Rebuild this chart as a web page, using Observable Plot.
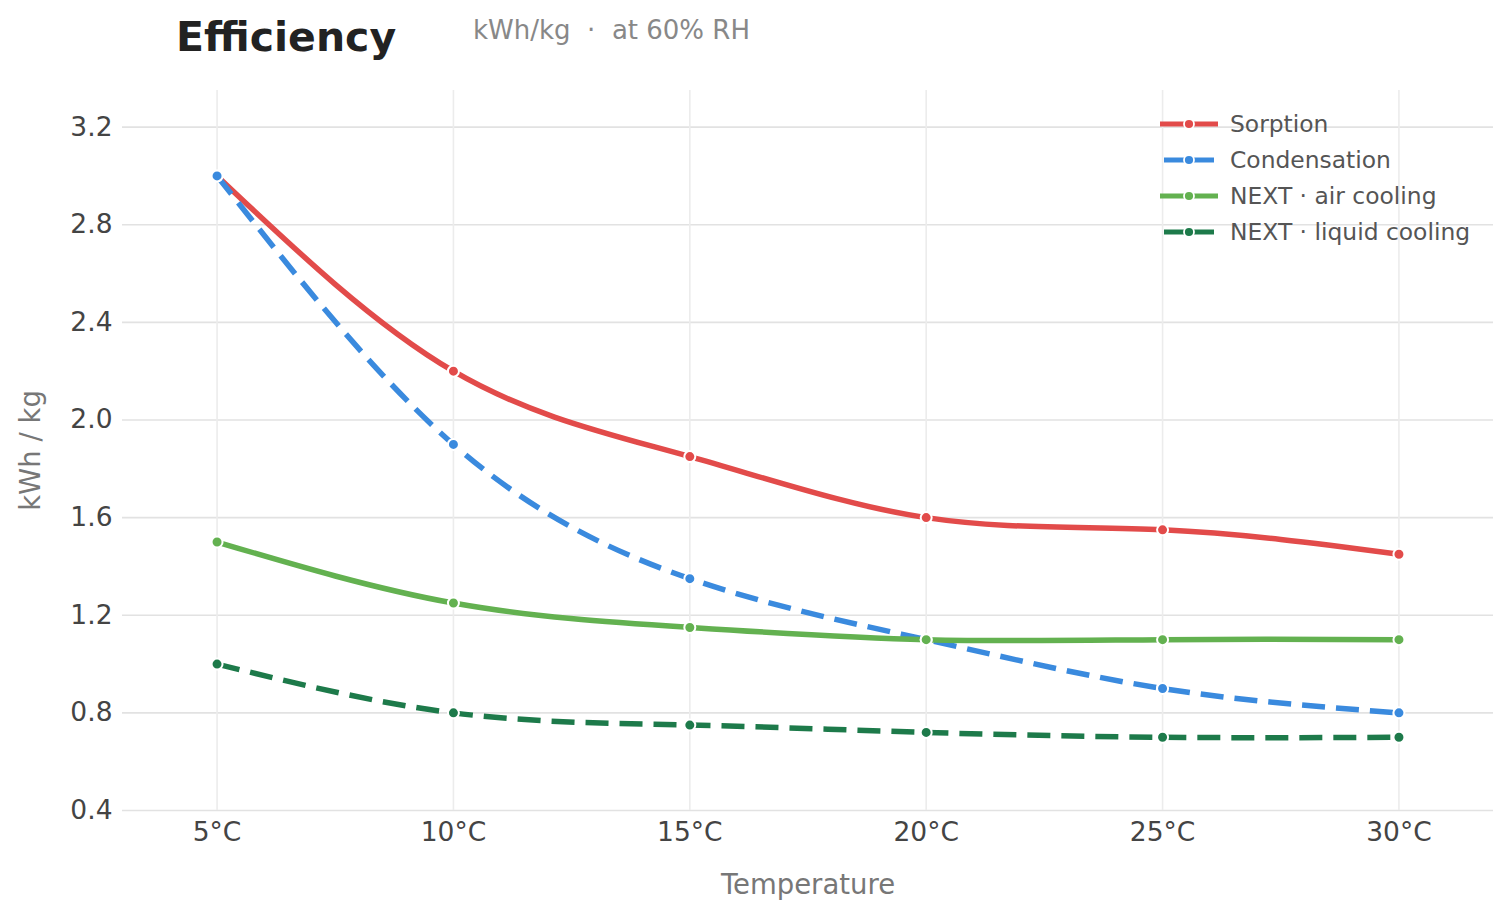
<!DOCTYPE html>
<html>
<head>
<meta charset="utf-8">
<script src="https://cdn.jsdelivr.net/npm/d3@7"></script>
<script src="https://cdn.jsdelivr.net/npm/@observablehq/plot@0.6"></script>
<style>
  html, body { margin: 0; padding: 0; background: #fff; font-family: "DejaVu Sans", sans-serif; }
  #wrap { position: relative; width: 1512px; height: 916px; }
  #head { position: relative; height: 70px; }
  #title { position: absolute; left: 176px; top: 13px; font-size: 41px; font-weight: bold; color: #222; }
  #sub { position: absolute; left: 473px; top: 15px; font-size: 26px; color: #888; white-space: pre; }
  #legend { position: absolute; left: 1160px; top: 106px; }
  .row { display: flex; align-items: center; height: 36px; }
  .row span { font-size: 23.4px; color: #555; margin-left: 10px; white-space: pre; }
</style>
</head>
<body>
<div id="wrap">
  <div id="head">
    <div id="title">Efficiency</div>
    <div id="sub">kWh/kg  ·  at 60% RH</div>
  </div>
  <div id="chart"></div>
  <div id="legend"></div>
</div>
<script>
const temps = [5, 10, 15, 20, 25, 30];
const tempLabels = ["5°C", "10°C", "15°C", "20°C", "25°C", "30°C"];
const sorption = [3.0, 2.2, 1.85, 1.6, 1.55, 1.45];
const condensation = [3.0, 1.9, 1.35, 1.1, 0.9, 0.8];
const nextAir = [1.5, 1.25, 1.15, 1.1, 1.1, 1.1];
const nextLiquid = [1.0, 0.8, 0.75, 0.72, 0.7, 0.7];
const yTicks = [0.4, 0.8, 1.2, 1.6, 2.0, 2.4, 2.8, 3.2];

const series = [
  {name: "Sorption", values: sorption, color: "#e24b4a", dash: null},
  {name: "Condensation", values: condensation, color: "#3a8ade", dash: "23,11"},
  {name: "NEXT · air cooling", values: nextAir, color: "#63b150", dash: null},
  {name: "NEXT · liquid cooling", values: nextLiquid, color: "#1d7a4a", dash: "23,11"}
];

const marks = [
  Plot.gridY(yTicks, {stroke: "#e2e2e2", strokeOpacity: 1, strokeWidth: 1.6}),
  Plot.gridX(temps, {stroke: "#ececec", strokeOpacity: 1, strokeWidth: 1.6}),
  Plot.axisY(yTicks, {tickSize: 0, tickPadding: 10, fontSize: 26.5, fill: "#444", label: null, tickFormat: d => d.toFixed(1)}),
  Plot.axisX(temps, {tickSize: 0, tickPadding: 12, fontSize: 26.5, fill: "#444", label: null, tickFormat: d => tempLabels[temps.indexOf(d)]}),
  Plot.text(["Temperature"], {frameAnchor: "bottom", dy: 83, fontSize: 27.5, fill: "#777"}),
  Plot.text(["kWh / kg"], {frameAnchor: "left", textAnchor: "middle", dx: -91, rotate: -90, fontSize: 27.5, fill: "#777"})
];

for (const s of series) {
  const data = temps.map((t, i) => ({t, v: s.values[i]}));
  marks.push(Plot.line(data, {x: "t", y: "v", stroke: s.color, strokeWidth: 5.5, curve: "natural",
    strokeDasharray: s.dash || undefined, strokeLinecap: "butt"}));
}
for (const s of series) {
  const data = temps.map((t, i) => ({t, v: s.values[i]}));
  marks.push(Plot.dot(data, {x: "t", y: "v", r: 5.5, fill: s.color, stroke: "#fff", strokeWidth: 2}));
}

const chart = Plot.plot({
  width: 1512,
  height: 846,
  marginTop: 20,
  marginBottom: 106,
  marginLeft: 122,
  marginRight: 19,
  style: {fontFamily: "DejaVu Sans", background: "#fff"},
  x: {domain: [3, 32], axis: null},
  y: {domain: [0.4, 3.35], axis: null},
  marks
});
document.getElementById("chart").appendChild(chart);

const legend = document.getElementById("legend");
for (const s of series) {
  const row = document.createElement("div");
  row.className = "row";
  const sw = s.dash
    ? `<line x1="4" y1="9" x2="24" y2="9" stroke="${s.color}" stroke-width="5"/><line x1="34" y1="9" x2="54" y2="9" stroke="${s.color}" stroke-width="5"/>`
    : `<line x1="0" y1="9" x2="58" y2="9" stroke="${s.color}" stroke-width="5"/>`;
  row.innerHTML = `<svg width="60" height="18">${sw}<circle cx="29" cy="9" r="5" fill="${s.color}" stroke="#fff" stroke-width="1.8"/></svg><span>${s.name}</span>`;
  legend.appendChild(row);
}
</script>
</body>
</html>
